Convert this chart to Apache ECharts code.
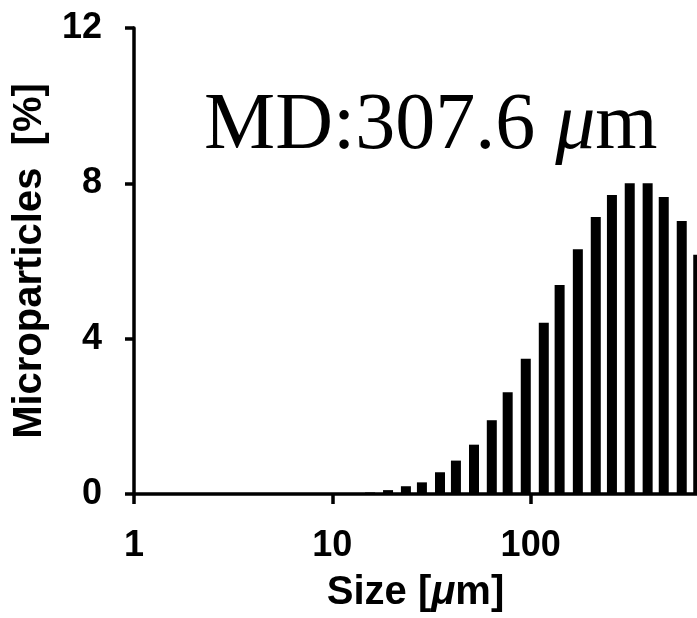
<!DOCTYPE html>
<html>
<head>
    <meta charset="utf-8" />
    <title>Size distribution</title>
    <script src="https://cdn.jsdelivr.net/npm/echarts@6/dist/echarts.min.js"></script>
</head>
<body style="margin:0">
<div id="container" style="width:697px;height:618px"></div>
<script type="text/javascript">
    // particle size (µm) at each bin centre
    var sizes = [15.5, 19.1, 23.5, 28.3, 34.9, 42.0, 51.8, 63.7, 76.6, 94.5, 116.5, 140, 173, 213, 257, 316, 389, 469, 578, 700];
    // percentage in each bin
    var percent = [0.04, 0.1, 0.2, 0.3, 0.56, 0.86, 1.27, 1.9, 2.62, 3.48, 4.41, 5.38, 6.3, 7.13, 7.7, 8.0, 8.0, 7.65, 7.03, 6.16];
    var xTicks = [1, 10, 100];
    var yMax = 12;
    var yStep = 4;

    var dom = document.getElementById("container");
    var myChart = echarts.init(dom);

    var bars = [];
    for (var i = 0; i < sizes.length; i++) {
        bars.push([sizes[i], percent[i]]);
    }

    var option = {
        animation: false,
        backgroundColor: '#fff',
        title: {
            text: '{a|MD:307.6 }{b|μ}{a|m}',
            left: 199,
            top: 82,
            textStyle: {
                fontWeight: 'normal',
                rich: {
                    a: {fontFamily: 'Liberation Serif', fontSize: 80, fontWeight: 'normal', color: '#000'},
                    b: {fontFamily: 'Liberation Serif', fontSize: 80, fontWeight: 'normal', fontStyle: 'italic', color: '#000'}
                }
            }
        },
        grid: {left: 134, right: 0, top: 28, bottom: 123},
        xAxis: {
            type: 'log',
            logBase: 10,
            min: 1,
            max: 690,
            name: 'Size [{i|μ}m]',
            nameLocation: 'middle',
            nameGap: 79,
            nameTextStyle: {
                fontFamily: 'Liberation Sans', fontSize: 40, fontWeight: 'bold', color: '#000',
                rich: {
                    i: {fontFamily: 'Liberation Sans', fontSize: 40, fontWeight: 'bold', fontStyle: 'italic', color: '#000'}
                }
            },
            axisLine: {lineStyle: {color: '#000', width: 3.5}},
            axisTick: {length: 10, lineStyle: {width: 3.5, color: '#000'}, customValues: xTicks},
            axisLabel: {
                customValues: xTicks,
                margin: 34,
                fontFamily: 'Liberation Sans', fontSize: 36, fontWeight: 'bold', color: '#000'
            },
            splitLine: {show: false}
        },
        yAxis: {
            type: 'value',
            min: 0,
            max: yMax,
            interval: yStep,
            name: 'Microparticles  [%]',
            nameLocation: 'middle',
            nameGap: 84,
            nameTextStyle: {fontFamily: 'Liberation Sans', fontSize: 40, fontWeight: 'bold', color: '#000'},
            axisLine: {show: true, lineStyle: {color: '#000', width: 3.5}},
            axisTick: {show: true, length: 9, lineStyle: {width: 3.5, color: '#000'}},
            axisLabel: {margin: 32, fontFamily: 'Liberation Sans', fontSize: 36, fontWeight: 'bold', color: '#000'},
            splitLine: {show: false}
        },
        series: [{
            type: 'bar',
            data: bars,
            barWidth: 10,
            itemStyle: {color: '#000'}
        }]
    };
    myChart.setOption(option, true);
</script>
</body>
</html>
